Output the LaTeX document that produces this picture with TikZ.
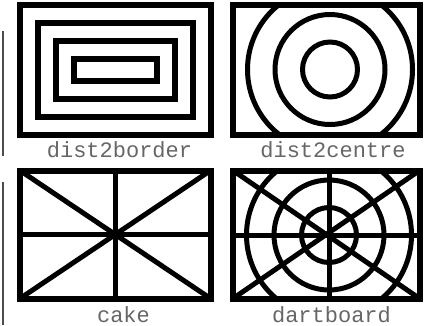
\documentclass[tikz,border=0pt]{standalone}
\usepackage{fontspec}
\newfontfamily\capfont{Liberation Mono}
\usetikzlibrary{positioning}

\begin{document}
\begin{tikzpicture}[x=1pt, y=-1pt,
          panel/.style={draw=black, line width=6pt, outer sep=0pt, inner sep=0pt},
          ring/.style={draw=black, line width=5pt},
          spoke/.style={draw=black, line width=5pt},
          caption/.style={font=\capfont\fontsize{22}{24}\selectfont, text=black!60,
                          anchor=base, inner sep=0pt},
          sideline/.style={draw=black!70, line width=1.5pt}
        ]
          \useasboundingbox (0,0) rectangle (427,325);

          % dist2border: nested frames
          \foreach \k in {0,...,3}
            \draw[panel] (19.5+18*\k, 4.5+18*\k) rectangle (210.5-18*\k, 134.5-18*\k);
          \node[caption] (border) at (119.5,157) {dist2border};

          % dist2centre: rings
          \node[panel, minimum width=186.5pt, minimum height=130pt] (centre) at (326.25,69.5) {};
          \coordinate (hubA) at (330,69.5);
          \begin{scope}
            \clip (centre.north west) rectangle (centre.south east);
            \foreach \r in {27.5,55,82.5}
              \draw[ring] (hubA) circle[radius=\r pt];
          \end{scope}
          \node[panel, minimum width=186.5pt, minimum height=130pt] at (centre) {};
          \node[caption] (centrecap) at (333,157) {dist2centre};

          % cake: cross and diagonals
          \node[panel, minimum width=190.5pt, minimum height=128pt] (cake) at (115.25,234.5) {};
          \begin{scope}
            \clip (cake.north west) rectangle (cake.south east);
            \draw[spoke] (cake.north west) -- (cake.south east);
            \draw[spoke] (cake.south west) -- (cake.north east);
            \draw[spoke] (cake.north) -- (cake.south);
            \draw[spoke] (cake.west) -- (cake.east);
          \end{scope}
          \node[panel, minimum width=190.5pt, minimum height=128pt] at (cake) {};
          \node[caption] (cakecap) at (123.5,322) {cake};

          % dartboard: rings and spokes
          \node[panel, minimum width=186.5pt, minimum height=128pt] (dart) at (326.25,234.5) {};
          \coordinate (hubB) at (329,235);
          \begin{scope}
            \clip (dart.north west) rectangle (dart.south east);
            \foreach \r in {27.5,55,82.5}
              \draw[ring] (hubB) circle[radius=\r pt];
            \draw[spoke] (dart.north west) -- (dart.south east);
            \draw[spoke] (dart.south west) -- (dart.north east);
            \draw[spoke] (hubB |- dart.north) -- (hubB |- dart.south);
            \draw[spoke] (hubB -| dart.west) -- (hubB -| dart.east);
          \end{scope}
          \node[panel, minimum width=186.5pt, minimum height=128pt] at (dart) {};
          \node[caption] (dartcap) at (331.5,322) {dartboard};

          % thin marks on the left edge
          \draw[sideline] (3,31) -- (3,156);
          \draw[sideline] (3,182) -- (3,325);
        \end{tikzpicture}
\end{document}
